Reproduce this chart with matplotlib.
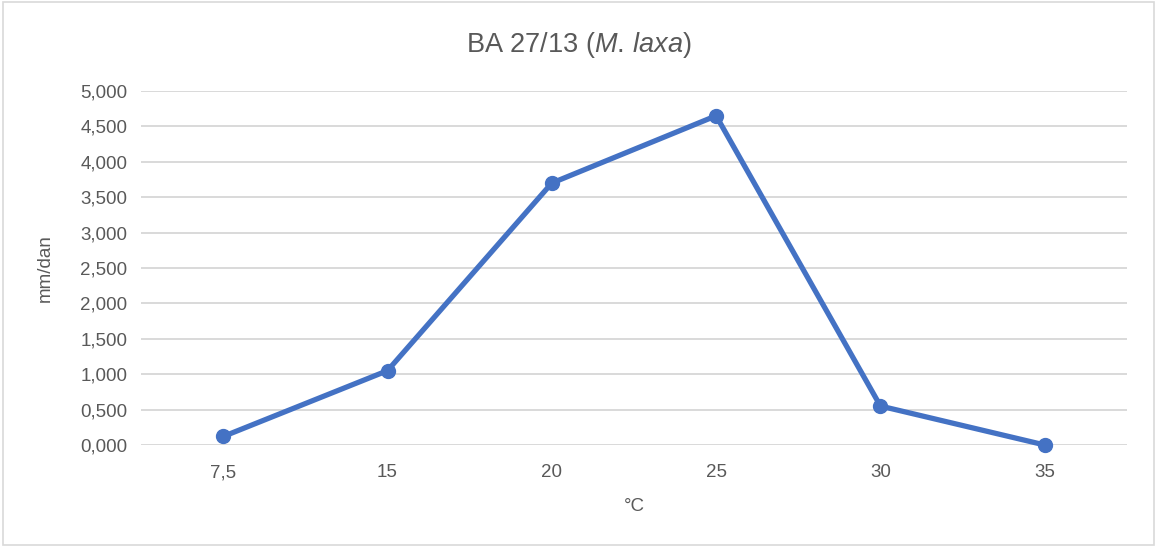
import matplotlib.pyplot as plt
from matplotlib.patches import Rectangle
from matplotlib.ticker import FuncFormatter

# Data
temperatures = ['7,5', '15', '20', '25', '30', '35']
growth = [0.12, 1.05, 3.70, 4.65, 0.55, 0.0]
y_ticks = [0, 0.5, 1, 1.5, 2, 2.5, 3, 3.5, 4, 4.5, 5]

plt.rcParams['font.family'] = ['Liberation Sans', 'DejaVu Sans']
plt.rcParams['mathtext.fontset'] = 'custom'
plt.rcParams['mathtext.rm'] = 'Liberation Sans'
plt.rcParams['mathtext.it'] = 'Liberation Sans:italic'

fig = plt.figure(figsize=(11.57, 5.47), dpi=100)
ax = fig.add_axes([0.1219, 0.1865, 0.8521, 0.6471])

x = range(len(temperatures))
ax.plot(x, growth, color='#4472C4', linewidth=3.8, marker='o', markersize=10,
        solid_capstyle='round', zorder=3, clip_on=False)

ax.set_xlim(-0.5, len(temperatures) - 0.5)
ax.set_ylim(0, 5)
ax.set_xticks(list(x))
ax.set_xticklabels(temperatures)
ax.set_yticks(y_ticks)
ax.yaxis.set_major_formatter(FuncFormatter(lambda v, p: f"{v:.3f}".replace('.', ',')))

ax.grid(axis='y', color='#D9D9D9', linewidth=1.4)
ax.set_axisbelow(True)
for s in ax.spines.values():
    s.set_visible(False)
ax.tick_params(length=0, labelsize=13.5, colors='#595959', pad=10)
ax.tick_params(axis='x', pad=14)

ax.set_xlabel('°C', fontsize=13.5, color='#595959', labelpad=12)
ax.set_ylabel('mm/dan', fontsize=13.5, color='#595959', labelpad=19)

fig.text(0.5, 0.918, r'BA 27/13 ($\mathit{M.\,laxa}$)', ha='center', va='center',
         fontsize=19.5, color='#595959')

# light border around the chart area
fig.patches.append(Rectangle((0.003, 0.003), 0.994, 0.994, transform=fig.transFigure,
                             fill=False, edgecolor='#D9D9D9', linewidth=1.2))

fig.savefig('out.png', dpi=100)
